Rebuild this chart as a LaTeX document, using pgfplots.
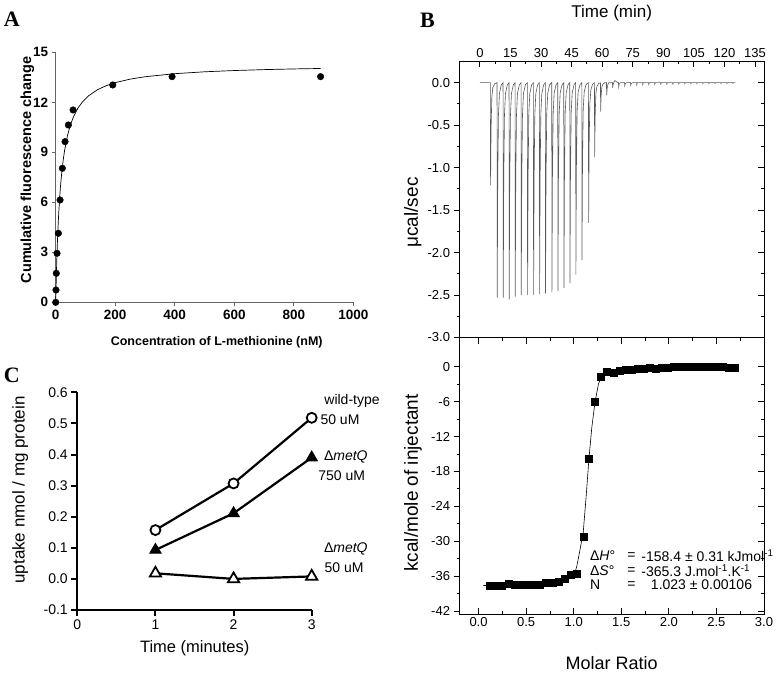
\documentclass[border=0pt]{standalone}
\usepackage{pgfplots}
\pgfplotsset{compat=1.18, /pgf/number format/assume math mode=true, /pgf/number format/1000 sep={}}
\usepackage{fontspec}
\setmainfont{Liberation Sans}
\newfontfamily\panelfont{Liberation Serif}
\newcommand{\fs}[1]{\fontsize{#1bp}{#1bp}\selectfont}
\begin{document}
\begin{tikzpicture}
\useasboundingbox (0,0) rectangle (781bp,-675bp);
% ---------------- Panel A ----------------
\begin{axis}[
  scale only axis, width=297.6bp, height=250bp,
  at={(55.7bp,-302.3bp)}, anchor=south west,
  xmin=0, xmax=1000, ymin=0, ymax=15,
  axis x line*=bottom, axis y line*=left,
  axis line style={-, draw=black!60, line width=0.9bp},
  tick align=outside, major tick length=4bp,
  tick style={draw=black!60, line width=0.9bp},
  xtick={0,200,...,1000}, ytick={0,3,...,15},
  ticklabel style={font=\fs{13.5}\bfseries},
  xlabel={Concentration of L-methionine (nM)},
  ylabel={Cumulative fluorescence change},
  xlabel style={font=\fs{12.5}\bfseries, at={(axis description cs:0.541,-0.16)}, anchor=center},
  ylabel style={font=\fs{14.5}\bfseries, at={(axis description cs:-0.095,0.529)}, anchor=center},
  clip=false,
]
\addplot[black, line width=0.7bp, no marks] coordinates {
(0,0) (2,1.505) (4,2.724) (6,3.730) (8,4.576) (10,5.296) (13,6.197) (16,6.933)
(20,7.730) (25,8.512) (30,9.128) (40,10.035) (50,10.672) (60,11.143) (75,11.658)
(90,12.028) (110,12.386) (140,12.752) (170,13.0) (200,13.180) (250,13.390)
(300,13.533) (400,13.717) (500,13.830) (600,13.906) (700,13.961) (800,14.002) (890,14.03)
};
\addplot[only marks, mark=*, mark size=3.3bp, black] coordinates {
(0,0) (1,0.74) (2,1.74) (4.5,2.94) (9,4.14) (14.6,6.14) (22.4,8.04) (31.4,9.64)
(42.6,10.64) (58.3,11.54) (191.7,13.04) (391,13.54) (890,13.54)
};
\end{axis}
% ---------------- Panel B top (main box) ----------------
\begin{axis}[
  scale only axis, width=304.5bp, height=276.5bp,
  at={(459.5bp,-337.5bp)}, anchor=south west,
  xmin=-10, xmax=139.4, ymin=-3, ymax=0.255,
  axis line style={line width=0.9bp},
  tick align=inside, major tick length=6bp, minor tick length=3bp,
  tick style={black, line width=0.8bp},
  xtick={0,15,...,135}, minor x tick num=1, xtick pos=right, xticklabel pos=right,
  ytick={-3,-2.5,...,0}, minor y tick num=1, ytick pos=right, yticklabels={},
  xticklabel style={font=\fs{13}},
  xlabel={Time (min)},
  xlabel style={font=\fs{17}, at={(axis description cs:0.5,1.174)}, anchor=center},
]
\addplot[color=black!65, line width=0.6bp, no marks] coordinates {
(0,0)
(5.14,0) (5.24,-1.21) (5.49,-0.545) (5.84,-0.18) (6.34,-0.06) (7.24,-0.012)
(8.41,0) (8.51,-2.53) (8.76,-1.14) (9.11,-0.38) (9.61,-0.127) (10.51,-0.025)
(11.36,0) (11.46,-2.53) (11.71,-1.14) (12.06,-0.38) (12.56,-0.127) (13.46,-0.025)
(14.30,0) (14.40,-2.55) (14.65,-1.15) (15.00,-0.38) (15.50,-0.128) (16.40,-0.026)
(17.25,0) (17.35,-2.52) (17.60,-1.13) (17.95,-0.38) (18.45,-0.126) (19.35,-0.025)
(20.20,0) (20.30,-2.50) (20.55,-1.13) (20.90,-0.375) (21.40,-0.125) (22.30,-0.025)
(23.30,0) (23.40,-2.50) (23.65,-1.13) (24.00,-0.375) (24.50,-0.125) (25.40,-0.025)
(26.25,0) (26.35,-2.50) (26.60,-1.13) (26.95,-0.375) (27.45,-0.125) (28.35,-0.025)
(29.20,0) (29.30,-2.49) (29.55,-1.12) (29.90,-0.37) (30.40,-0.125) (31.30,-0.025)
(32.10,0) (32.20,-2.48) (32.45,-1.12) (32.80,-0.37) (33.30,-0.124) (34.20,-0.025)
(35.25,0) (35.35,-2.47) (35.60,-1.11) (35.95,-0.37) (36.45,-0.124) (37.35,-0.025)
(38.20,0) (38.30,-2.45) (38.55,-1.10) (38.90,-0.37) (39.40,-0.12) (40.30,-0.025)
(41.15,0) (41.25,-2.42) (41.50,-1.09) (41.85,-0.36) (42.35,-0.12) (43.25,-0.024)
(44.10,0) (44.20,-2.36) (44.45,-1.06) (44.80,-0.35) (45.30,-0.118) (46.20,-0.024)
(47.00,0) (47.10,-2.26) (47.35,-1.02) (47.70,-0.34) (48.20,-0.113) (49.10,-0.023)
(50.00,0) (50.10,-2.09) (50.35,-0.94) (50.70,-0.31) (51.20,-0.105) (52.10,-0.021)
(53.25,0) (53.35,-1.65) (53.60,-0.74) (53.95,-0.25) (54.45,-0.083) (55.35,-0.017)
(56.20,0) (56.30,-0.88) (56.55,-0.40) (56.90,-0.13) (57.40,-0.044) (58.30,-0.009)
(59.15,0) (59.25,-0.34) (59.50,-0.15) (59.85,-0.05) (60.35,-0.017) (61.25,0)
(62.10,0) (62.20,-0.15) (62.45,-0.07) (62.80,-0.02) (63.30,0)
(65.05,0) (65.15,-0.06) (65.40,-0.02) (65.80,0.01) (66.30,0.025) (67.00,0.01)
(68.00,0) (68.10,-0.05) (68.40,-0.015) (69.00,0)
(70.95,0) (71.05,-0.035) (71.35,-0.01) (72.00,0)
(73.90,0) (74.00,-0.03) (74.30,-0.008) (75.00,0)
(76.85,0) (76.95,-0.025) (77.30,0)
(79.80,0) (79.90,-0.022) (80.25,0)
(82.75,0) (82.85,-0.02) (83.20,0)
(85.70,0) (85.80,-0.02) (86.15,0)
(88.65,0) (88.75,-0.018) (89.10,0)
(91.60,0) (91.70,-0.018) (92.05,0)
(94.55,0) (94.65,-0.016) (95.00,0)
(97.50,0) (97.60,-0.015) (97.95,0)
(100.45,0) (100.55,-0.014) (100.90,0)
(103.40,0) (103.50,-0.013) (103.85,0)
(106.35,0) (106.45,-0.012) (106.80,0)
(109.30,0) (109.40,-0.012) (109.75,0)
(112.25,0) (112.35,-0.011) (112.70,0)
(115.20,0) (115.30,-0.01) (115.65,0)
(118.15,0) (118.25,-0.01) (118.60,0)
(121.10,0) (121.20,-0.01) (121.55,0)
(124.05,0) (124.15,-0.01) (124.50,0)
(125.30,0)
};
\end{axis}
% left outward ticks + labels of B top
\begin{axis}[
  scale only axis, width=304.5bp, height=276.5bp,
  at={(459.5bp,-337.5bp)}, anchor=south west,
  xmin=-10, xmax=139.4, ymin=-3, ymax=0.255,
  axis x line=none, axis y line*=left, axis line style={-, line width=0.9bp},
  xtick=\empty, ytick={-3,-2.5,...,0}, minor y tick num=1, ytick pos=left,
  tick align=outside, major tick length=6bp, minor tick length=3bp,
  tick style={black, line width=0.8bp},
  yticklabel style={font=\fs{13}, /pgf/number format/.cd, fixed, fixed zerofill, precision=1},
  ylabel={μcal/sec},
  ylabel style={font=\fs{19}, at={(axis description cs:-0.153,0.452)}, anchor=center},
]
\end{axis}
% ---------------- Panel B bottom (main box) ----------------
\begin{axis}[
  scale only axis, width=304.5bp, height=276.5bp,
  at={(459.5bp,-614bp)}, anchor=south west,
  xmin=-0.2, xmax=3.0, ymin=-42.5, ymax=5.0,
  axis line style={line width=0.9bp},
  tick align=inside, major tick length=6bp, minor tick length=3bp,
  tick style={black, line width=0.8bp},
  xtick={0,0.5,...,3}, minor x tick num=1, xtick pos=both,
  xticklabel style={font=\fs{13}, /pgf/number format/.cd, fixed, fixed zerofill, precision=1},
  ytick={-42,-36,...,0}, minor y tick num=1, ytick pos=right, yticklabels={},
  xlabel={Molar Ratio},
  xlabel style={font=\fs{18}, at={(axis description cs:0.5,-0.177)}, anchor=center},
  clip=false,
]
\addplot[black, line width=0.6bp, no marks] coordinates {
(0.05,-37.6) (0.3,-37.55) (0.5,-37.5) (0.7,-37.3) (0.85,-37.0) (0.95,-36.5) (1.0,-35.9)
(1.03,-34.5) (1.06,-32.0) (1.10,-28.5) (1.13,-22.5) (1.16,-15.9) (1.19,-10.5) (1.224,-6.1)
(1.26,-3.0) (1.288,-1.8) (1.35,-0.9) (1.45,-0.5) (1.6,-0.3) (2.0,-0.1) (2.72,-0.05)
};
\addplot[only marks, mark=square*, mark size=3.5bp, black] coordinates {
(0.115,-37.6) (0.181,-37.6) (0.247,-37.7) (0.313,-37.3) (0.379,-37.5) (0.445,-37.5)
(0.511,-37.5) (0.577,-37.5) (0.643,-37.4) (0.709,-37.2) (0.775,-37.1) (0.841,-36.9)
(0.907,-36.4) (0.973,-35.8) (1.035,-35.5) (1.100,-29.2) (1.162,-15.9) (1.224,-6.1)
(1.288,-1.8) (1.352,-0.8) (1.416,-1.1) (1.480,-0.75) (1.544,-0.6) (1.608,-0.5)
(1.672,-0.42) (1.736,-0.3) (1.800,-0.25) (1.864,-0.3) (1.928,-0.15) (1.992,-0.12)
(2.056,-0.1) (2.120,-0.08) (2.184,-0.06) (2.248,-0.05) (2.312,-0.04) (2.376,-0.02)
(2.440,0.0) (2.504,0.05) (2.568,-0.05) (2.632,-0.12) (2.696,-0.2)
};
\node[anchor=west, inner sep=0, font=\fs{14}] at (axis cs:1.17,-32.5) {Δ\textit{H}°};
\node[anchor=center, inner sep=0, font=\fs{14}] at (axis cs:1.607,-32.5) {=};
\node[anchor=west, inner sep=0, font=\fs{14}] at (axis cs:1.71,-32.5) {-158.4 ± 0.31 kJmol\textsuperscript{-1}};
\node[anchor=west, inner sep=0, font=\fs{14}] at (axis cs:1.17,-35.07) {Δ\textit{S}°};
\node[anchor=center, inner sep=0, font=\fs{14}] at (axis cs:1.607,-35.07) {=};
\node[anchor=west, inner sep=0, font=\fs{14}] at (axis cs:1.71,-35.07) {-365.3 J.mol\textsuperscript{-1}.K\textsuperscript{-1}};
\node[anchor=west, inner sep=0, font=\fs{14}] at (axis cs:1.17,-37.5) {N};
\node[anchor=center, inner sep=0, font=\fs{14}] at (axis cs:1.607,-37.5) {=};
\node[anchor=west, inner sep=0, font=\fs{14}] at (axis cs:1.81,-37.5) {1.023 ± 0.00106};
\end{axis}
% left outward ticks + labels of B bottom
\begin{axis}[
  scale only axis, width=304.5bp, height=276.5bp,
  at={(459.5bp,-614bp)}, anchor=south west,
  xmin=-0.2, xmax=3.0, ymin=-42.5, ymax=5.0,
  axis x line=none, axis y line*=left, axis line style={-, line width=0.9bp},
  xtick=\empty, ytick={-42,-36,...,0}, minor y tick num=1, ytick pos=left,
  tick align=outside, major tick length=6bp, minor tick length=3bp,
  tick style={black, line width=0.8bp},
  yticklabel style={font=\fs{13}},
  ylabel={kcal/mole of injectant},
  ylabel style={font=\fs{19}, at={(axis description cs:-0.153,0.474)}, anchor=center},
]
\end{axis}
% ---------------- Panel C ----------------
\begin{axis}[
  scale only axis, width=234.4bp, height=217.7bp,
  at={(77.3bp,-610bp)}, anchor=south west,
  xmin=0, xmax=3, ymin=-0.1, ymax=0.6,
  axis x line*=bottom, axis y line*=left,
  axis line style={-, line width=2bp},
  tick align=outside, major tick length=6bp,
  tick style={black, line width=2bp},
  xtick={0,1,2,3}, ytick={-0.1,0,0.1,0.2,0.3,0.4,0.5,0.6},
  ticklabel style={font=\fs{14}},
  yticklabel style={/pgf/number format/.cd, fixed, fixed zerofill, precision=1},
  xlabel={Time (minutes)}, ylabel={uptake nmol / mg protein},
  xlabel style={font=\fs{16.5}, at={(axis description cs:0.501,-0.175)}, anchor=center},
  ylabel style={font=\fs{17}, at={(axis description cs:-0.244,0.551)}, anchor=center},
  clip=false,
]
\addplot[black, line width=2.2bp, mark=*, mark size=5bp, mark options={fill=white, line width=1.8bp}] coordinates {(1,0.157) (2,0.307) (3,0.518)};
\addplot[black, line width=2.2bp, mark=triangle*, mark size=6.5bp, mark options={fill=black, line width=1bp}] coordinates {(1,0.093) (2,0.211) (3,0.39)};
\addplot[black, line width=2.2bp, mark=triangle*, mark size=6.5bp, mark options={fill=white, line width=1.8bp}] coordinates {(1,0.018) (2,0.0) (3,0.008)};
\node[font=\fs{14}] at (axis cs:3.516,0.572) {wild-type};
\node[font=\fs{14}] at (axis cs:3.362,0.513) {50 uM};
\node[font=\fs{14}] at (axis cs:3.437,0.392) {Δ\textit{metQ}};
\node[font=\fs{14}] at (axis cs:3.384,0.331) {750 uM};
\node[font=\fs{14}] at (axis cs:3.437,0.096) {Δ\textit{metQ}};
\node[font=\fs{14}] at (axis cs:3.414,0.035) {50 uM};
\end{axis}
% panel letters
\node[font=\panelfont\bfseries\fs{22}] at (11.7bp,-19bp) {A};
\node[font=\panelfont\bfseries\fs{22}] at (427.5bp,-20bp) {B};
\node[font=\panelfont\bfseries\fs{22}] at (11.7bp,-375bp) {C};
\end{tikzpicture}
\end{document}
